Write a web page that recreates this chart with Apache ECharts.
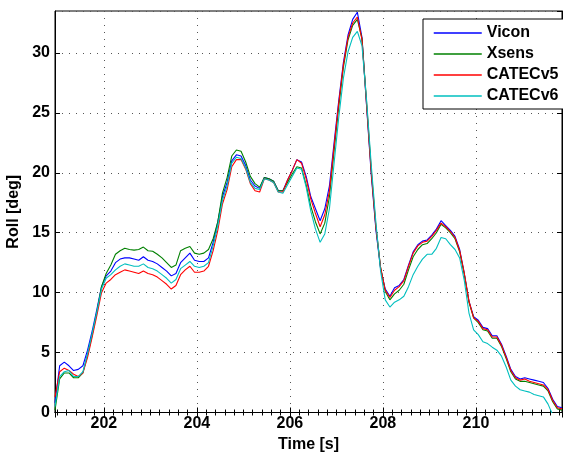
<!DOCTYPE html>
<html>
<head>
<meta charset="utf-8">
<script src="https://cdn.jsdelivr.net/npm/echarts@6/dist/echarts.min.js"></script>
<style>
  html, body { margin: 0; padding: 0; background: #fff; }
  #chart { width: 563px; height: 454px; }
</style>
</head>
<body>
<div id="chart"></div>
<script>
// time stamps [s]
const time = [
  200.95, 201.05, 201.15, 201.25, 201.35, 201.45, 201.55, 201.65, 201.75, 201.85,
  201.95, 202.05, 202.15, 202.25, 202.35, 202.45, 202.55, 202.65, 202.75, 202.85,
  202.95, 203.05, 203.15, 203.25, 203.35, 203.45, 203.55, 203.65, 203.75, 203.85,
  203.95, 204.05, 204.15, 204.25, 204.35, 204.45, 204.55, 204.65, 204.75, 204.85,
  204.95, 205.05, 205.15, 205.25, 205.35, 205.45, 205.55, 205.65, 205.75, 205.85,
  205.95, 206.05, 206.15, 206.25, 206.35, 206.45, 206.55, 206.65, 206.75, 206.85,
  206.95, 207.05, 207.15, 207.25, 207.35, 207.45, 207.55, 207.65, 207.75, 207.85,
  207.95, 208.05, 208.15, 208.25, 208.35, 208.45, 208.55, 208.65, 208.75, 208.85,
  208.95, 209.05, 209.15, 209.25, 209.35, 209.45, 209.55, 209.65, 209.75, 209.85,
  209.95, 210.05, 210.15, 210.25, 210.35, 210.45, 210.55, 210.65, 210.75, 210.85,
  210.95, 211.05, 211.15, 211.25, 211.35, 211.45, 211.55, 211.65, 211.75, 211.85
];

// roll [deg]
const vicon = [
  0.8, 3.9, 4.2, 3.9, 3.5, 3.6, 3.9, 5.2, 6.8, 8.6,
  10.5, 11.4, 11.8, 12.5, 12.8, 12.9, 12.9, 12.8, 12.7, 13.0,
  12.7, 12.6, 12.4, 12.1, 11.8, 11.4, 11.6, 12.5, 12.9, 13.3,
  12.7, 12.6, 12.6, 12.9, 14.2, 15.9, 18.0, 19.2, 21.0, 21.5,
  21.4, 20.6, 19.4, 18.9, 18.7, 19.6, 19.5, 19.3, 18.5, 18.5,
  19.4, 20.2, 21.1, 20.9, 19.7, 18.0, 17.0, 16.0, 17.0, 18.9,
  22.5, 26.0, 29.2, 31.5, 32.8, 33.4, 31.3, 25.5, 19.8, 15.2,
  12.0, 10.3, 9.7, 10.4, 10.6, 11.1, 12.3, 13.4, 14.0, 14.3,
  14.4, 14.8, 15.3, 16.0, 15.6, 15.2, 14.7, 13.6, 11.6, 9.3,
  8.0, 7.7, 7.1, 7.0, 6.4, 6.4, 5.7, 4.7, 3.6, 3.0,
  2.8, 2.9, 2.8, 2.7, 2.6, 2.5, 2.0, 1.1, 0.5, 0.4
];
const xsens = [
  0.2, 2.8, 3.3, 3.3, 2.9, 2.9, 3.3, 4.8, 6.5, 8.4,
  10.5, 11.6, 12.3, 13.2, 13.5, 13.7, 13.6, 13.55, 13.6, 13.8,
  13.5, 13.45, 13.2, 12.9, 12.5, 12.1, 12.3, 13.5, 13.7, 13.85,
  13.3, 13.2, 13.3, 13.6, 14.5, 15.9, 18.3, 19.6, 21.4, 21.9,
  21.8, 20.9, 19.7, 19.1, 18.8, 19.6, 19.5, 19.3, 18.5, 18.5,
  19.2, 19.9, 20.5, 20.4, 19.0, 17.2, 15.9, 14.9, 15.8, 18.0,
  21.8, 25.5, 28.8, 31.1, 32.3, 32.8, 31.2, 25.8, 20.2, 15.5,
  12.1, 10.1, 9.4, 9.9, 10.2, 10.7, 11.9, 13.0, 13.6, 14.0,
  14.1, 14.5, 15.0, 15.7, 15.4, 15.0, 14.5, 13.4, 11.5, 9.2,
  7.9, 7.5, 6.9, 6.8, 6.2, 6.2, 5.5, 4.5, 3.4, 2.8,
  2.6, 2.6, 2.5, 2.4, 2.3, 2.2, 1.8, 0.9, 0.3, 0.2
];
const catecV5 = [
  1.3, 3.4, 3.7, 3.5, 3.2, 3.0, 3.3, 4.6, 6.3, 8.1,
  10.0, 10.8, 11.1, 11.5, 11.7, 11.9, 11.8, 11.7, 11.6, 11.8,
  11.6, 11.5, 11.3, 11.0, 10.7, 10.3, 10.6, 11.5, 11.9, 12.2,
  11.7, 11.7, 11.8, 12.2, 13.5, 15.2, 17.4, 18.6, 20.5, 21.1,
  21.1, 20.3, 19.1, 18.5, 18.4, 19.5, 19.4, 19.2, 18.4, 18.4,
  19.4, 20.2, 21.1, 20.8, 19.5, 17.8, 16.6, 15.5, 16.5, 18.5,
  22.2, 25.8, 29.0, 31.3, 32.5, 33.0, 31.1, 25.6, 20.0, 15.4,
  12.1, 10.2, 9.6, 10.2, 10.5, 11.0, 12.2, 13.3, 13.9, 14.2,
  14.3, 14.7, 15.2, 15.8, 15.5, 15.1, 14.6, 13.5, 11.6, 9.3,
  7.9, 7.6, 7.0, 6.9, 6.3, 6.3, 5.6, 4.6, 3.5, 2.9,
  2.7, 2.8, 2.6, 2.5, 2.4, 2.3, 1.9, 1.0, 0.4, 0.3
];
const catecV6 = [
  0.5, 3.0, 3.4, 3.5, 3.0, 3.0, 3.4, 4.9, 6.6, 8.4,
  10.3, 11.2, 11.5, 11.9, 12.2, 12.4, 12.3, 12.2, 12.2, 12.4,
  12.1, 12.0, 11.8, 11.5, 11.2, 10.8, 11.1, 12.0, 12.3, 12.6,
  12.2, 12.1, 12.2, 12.5, 13.9, 15.6, 17.7, 18.9, 20.8, 21.3,
  21.2, 20.4, 19.2, 18.7, 18.6, 19.5, 19.4, 19.2, 18.4, 18.3,
  19.0, 19.7, 20.4, 20.3, 18.8, 16.8, 15.3, 14.2, 14.9, 17.0,
  20.8, 24.6, 27.9, 30.1, 31.3, 31.8, 30.6, 26.0, 20.6, 15.8,
  11.8, 9.4, 8.8, 9.2, 9.4, 9.7, 10.5, 11.5, 12.2, 12.8,
  13.2, 13.2, 13.7, 14.6, 14.5, 14.0, 13.6, 12.9, 11.0, 8.3,
  6.9, 6.5, 5.9, 5.75, 5.45, 5.2, 4.7, 3.8, 2.7, 2.2,
  1.9, 1.8, 1.7, 1.5, 1.4, 1.3, 0.7, -0.2, -0.8, -1.0
];

const names = ['Vicon', 'Xsens', 'CATECv5', 'CATECv6'];
const colors = ['#0000ff', '#008000', '#ff0000', '#00bfbf'];
const values = [vicon, xsens, catecV5, catecV6];

const font = 'Liberation Sans, Arial, sans-serif';
const grid = { show: false, lineStyle: { color: '#555', type: [1, 6], width: 1 } };

const chart = echarts.init(document.getElementById('chart'));
chart.setOption({
  animation: false,
  grid: { left: 55, top: 11, right: 1, bottom: 41.5, show: true, borderColor: '#000', borderWidth: 1,
    outerBoundsMode: 'none', containLabel: false },
  legend: {
    data: names,
    orient: 'vertical',
    left: 423, top: 19,
    padding: [6, 8, 5, 10],
    itemGap: 5,
    itemWidth: 48, itemHeight: 14,
    itemStyle: { opacity: 0 },
    lineStyle: { width: 1.5 },
    borderColor: '#000', borderWidth: 1,
    backgroundColor: '#fff',
    textStyle: { fontFamily: font, fontSize: 16, fontWeight: 'bold', color: '#000' }
  },
  xAxis: [{
    type: 'value', min: 200.95, max: 211.85, splitNumber: 5,
    name: 'Time [s]', nameLocation: 'middle', nameGap: 20,
    nameTextStyle: { fontFamily: font, fontSize: 16, fontWeight: 'bold', color: '#000' },
    axisLine: { lineStyle: { color: '#000', width: 1 } },
    axisTick: { inside: true, length: 5, lineStyle: { color: '#000' } },
    minorTick: { show: true, splitNumber: 10, length: 3, lineStyle: { color: '#000' } },
    axisLabel: { fontFamily: font, fontSize: 16, fontWeight: 'bold', color: '#000', margin: 3,
      showMinLabel: false, showMaxLabel: false },
    splitLine: Object.assign({}, grid, { show: true })
  }, {
    type: 'value', position: 'top', min: 200.95, max: 211.85, splitNumber: 5,
    axisLine: { lineStyle: { color: '#000' } },
    axisTick: { inside: true, length: 5, lineStyle: { color: '#000' } },
    minorTick: { show: true, splitNumber: 10, length: 3, lineStyle: { color: '#000' } },
    axisLabel: { show: false }, splitLine: { show: false }
  }],
  yAxis: [{
    type: 'value', min: 0, max: 33.5, interval: 5,
    name: 'Roll [deg]', nameLocation: 'middle', nameGap: 28,
    nameTextStyle: { fontFamily: font, fontSize: 16, fontWeight: 'bold', color: '#000' },
    axisLine: { show: true, lineStyle: { color: '#000', width: 1 } },
    axisTick: { show: true, inside: true, length: 5, lineStyle: { color: '#000' } },
    axisLabel: { fontFamily: font, fontSize: 16, fontWeight: 'bold', color: '#000', margin: 5,
      showMaxLabel: false },
    splitLine: Object.assign({}, grid, { show: true })
  }, {
    type: 'value', position: 'right', min: 0, max: 33.5, interval: 5,
    axisLine: { show: true, lineStyle: { color: '#000' } },
    axisTick: { show: true, inside: true, length: 5, lineStyle: { color: '#000' } },
    axisLabel: { show: false }, splitLine: { show: false }
  }],
  series: names.map((n, i) => ({
    name: n,
    type: 'line',
    xAxisIndex: 0, yAxisIndex: 0,
    data: time.map((t, k) => [t, values[i][k]]),
    symbol: 'none',
    clip: true,
    color: colors[i],
    lineStyle: { color: colors[i], width: 1.1 }
  }))
});
</script>
</body>
</html>
